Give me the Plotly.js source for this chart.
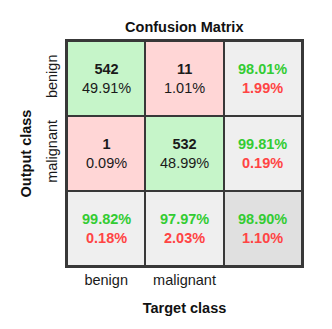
<!DOCTYPE html>
<html><head><meta charset="utf-8">
<script src="https://cdn.plot.ly/plotly-3.0.1.min.js"></script>
<style>html,body{margin:0;padding:0;background:#fff}#chart{width:332px;height:329px}</style>
</head><body><div id="chart"></div>
<script>
const classes = ['benign', 'malignant'];
const xTickLabels = ['benign', 'malignant', ''];
const yTickLabels = ['benign', 'malignant', ''];
// counts[row=output][col=target]
const counts = [[542, 11], [1, 532]];
const cellPct = [['49.91%', '1.01%'], ['0.09%', '48.99%']];
const rowGood = ['98.01%', '99.81%'];
const rowBad = ['1.99%', '0.19%'];
const colGood = ['99.82%', '97.97%'];
const colBad = ['0.18%', '2.03%'];
const totalGood = '98.90%';
const totalBad = '1.10%';
// cell kind: 0 correct, 1 error, 2 summary, 3 overall
const kinds = [[0, 1, 2], [1, 0, 2], [2, 2, 3]];

const FONT = 'Arial, "Liberation Sans", sans-serif';
const GREEN = '#33cc33', RED = '#ff4444';

const ann = [];
for (let r = 0; r < 2; r++) for (let c = 0; c < 2; c++) {
  ann.push({x: c, y: r, xref: 'x', yref: 'y', showarrow: false,
    text: '<b>' + counts[r][c] + '</b><br>' + cellPct[r][c],
    font: {family: FONT, size: 14.5, color: '#1a1a1a'}});
}
for (let r = 0; r < 2; r++) {
  ann.push({x: 2, y: r, xref: 'x', yref: 'y', showarrow: false,
    text: '<b><span style="color:' + GREEN + '">' + rowGood[r] + '</span><br><span style="color:' + RED + '">' + rowBad[r] + '</span></b>',
    font: {family: FONT, size: 14.5}});
}
for (let c = 0; c < 2; c++) {
  ann.push({x: c, y: 2, xref: 'x', yref: 'y', showarrow: false,
    text: '<b><span style="color:' + GREEN + '">' + colGood[c] + '</span><br><span style="color:' + RED + '">' + colBad[c] + '</span></b>',
    font: {family: FONT, size: 14.5}});
}
ann.push({x: 2, y: 2, xref: 'x', yref: 'y', showarrow: false,
  text: '<b><span style="color:' + GREEN + '">' + totalGood + '</span><br><span style="color:' + RED + '">' + totalBad + '</span></b>',
  font: {family: FONT, size: 14.5}});

const trace = {
  type: 'heatmap', z: kinds, x: [0, 1, 2], y: [0, 1, 2],
  zmin: 0, zmax: 3, showscale: false, hoverinfo: 'skip', xgap: 2, ygap: 2,
  colorscale: [[0, '#c6f5c9'], [0.25, '#c6f5c9'], [0.25, '#ffd6d6'], [0.5, '#ffd6d6'],
               [0.5, '#efefef'], [0.75, '#efefef'], [0.75, '#e0e0e0'], [1, '#e0e0e0']]
};

const layout = {
  width: 332, height: 329,
  margin: {l: 67, r: 30, t: 41, b: 63},
  paper_bgcolor: '#fff', plot_bgcolor: '#383838',
  font: {family: FONT, size: 14.5, color: '#1a1a1a'},
  title: {text: '<b>Confusion Matrix</b>', font: {family: FONT, size: 14.5, color: '#111'}, x: 0.555, xanchor: 'center', y: 0.919, yanchor: 'middle'},
  xaxis: {range: [-0.5, 2.5], tickvals: [0, 1, 2], ticktext: xTickLabels, showgrid: false, zeroline: false,
    showline: true, mirror: true, linecolor: '#383838', linewidth: 2, ticks: '', ticklabelstandoff: 0,
    title: {text: '<b>Target class</b>', font: {family: FONT, size: 14.5, color: '#111'}, standoff: 15}, fixedrange: true},
  yaxis: {range: [2.5, -0.5], tickvals: [0, 1, 2], ticktext: yTickLabels, tickangle: -90, showgrid: false, zeroline: false,
    showline: true, mirror: true, linecolor: '#383838', linewidth: 2, ticks: '', ticklabelstandoff: 2,
    title: {text: '<b>Output class</b>', font: {family: FONT, size: 14.5, color: '#111'}, standoff: 9}, fixedrange: true},
  annotations: ann
};
Plotly.newPlot('chart', [trace], layout, {displayModeBar: false, staticPlot: true});
</script></body></html>
